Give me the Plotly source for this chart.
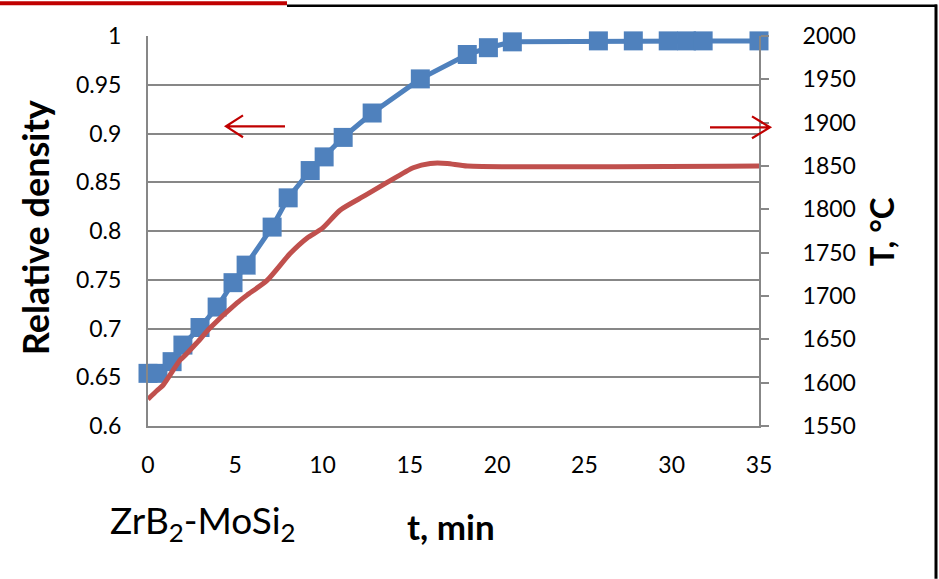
import plotly.graph_objects as go

# Relative density (left axis), blue squares
t_density = [0, 0.57, 1.38, 2.0, 2.98, 3.96, 4.87, 5.62, 7.11, 8.03, 9.29, 10.09,
             11.18, 12.84, 15.6, 18.29, 19.5, 20.87, 25.8, 27.8, 29.8, 30.85, 31.8, 35]
density = [0.654, 0.654, 0.666, 0.683, 0.701, 0.722, 0.747, 0.765, 0.804, 0.834, 0.862, 0.876,
           0.896, 0.921, 0.956, 0.981, 0.988, 0.994, 0.995, 0.995, 0.995, 0.995, 0.995, 0.995]

# Temperature (right axis), red line
t_temp = [0, 0.52, 0.86, 1.83, 2.0, 2.8, 3.55, 5.1, 5.67, 6.82, 8.14, 9.12, 9.98,
          11.0, 12.44, 13.7, 15.19, 16.17, 17.14, 18.3, 35]
temp = [1581, 1591, 1597, 1626, 1629, 1646, 1663, 1692, 1701, 1718, 1749, 1767, 1778,
        1799, 1816, 1831, 1848, 1853, 1853, 1850, 1850]

x_ticks = [0, 5, 10, 15, 20, 25, 30, 35]
y_ticks = [0.6, 0.65, 0.7, 0.75, 0.8, 0.85, 0.9, 0.95, 1]
y_ticklabels = ["0.6", "0.65", "0.7", "0.75", "0.8", "0.85", "0.9", "0.95", "1"]
y2_ticks = [1550, 1600, 1650, 1700, 1750, 1800, 1850, 1900, 1950, 2000]

W, H = 939, 579
L, R, T, B = 148, 759, 35.6, 426
ml, mr, mt, mb = L, W - R, T, H - B
pw, ph = R - L, B - T

def px(x):
    return (x - L) / pw

def py(y):
    return (B - y) / ph

GRID = "#878787"
FONT = "Lato"
ARROW = "#C00000"

fig = go.Figure()
fig.add_trace(go.Scatter(
    x=t_temp, y=temp, yaxis="y2", mode="lines",
    line=dict(color="#C0504D", width=5, shape="spline", smoothing=0.6),
    cliponaxis=False, showlegend=False))
fig.add_trace(go.Scatter(
    x=t_density, y=density, mode="lines+markers",
    line=dict(color="#4F81BD", width=5),
    marker=dict(symbol="square", size=19, color="#4F81BD"),
    cliponaxis=False, showlegend=False))

fig.update_layout(
    width=W, height=H,
    margin=dict(l=ml, r=mr, t=mt, b=mb, pad=0),
    paper_bgcolor="white", plot_bgcolor="white",
    font=dict(family=FONT, color="black", size=23),
    xaxis=dict(range=[0, 35], tickvals=x_ticks, showgrid=False, zeroline=False,
               showline=True, linecolor=GRID, linewidth=2, ticks="",
               ticklabelstandoff=17, tickfont=dict(size=23)),
    yaxis=dict(range=[0.6, 1], tickvals=y_ticks, ticktext=y_ticklabels,
               showgrid=True, gridcolor=GRID, gridwidth=1.6, zeroline=False,
               showline=True, linecolor=GRID, linewidth=2, ticks="",
               ticklabelstandoff=20, tickfont=dict(size=23)),
    yaxis2=dict(range=[1550, 2000], tickvals=y2_ticks, overlaying="y", side="right",
                showgrid=False, zeroline=False, showline=True, linecolor=GRID,
                linewidth=2, ticks="outside", ticklen=8, tickcolor=GRID, tickwidth=2,
                ticklabelstandoff=29, tickfont=dict(size=23)),
)

ann = []
ann.append(dict(text="<b>Relative density</b>", x=px(35), y=py(228), xref="paper", yref="paper",
                textangle=-90, showarrow=False, font=dict(size=36, family=FONT),
                xanchor="center", yanchor="middle"))
ann.append(dict(text="<b>T, °C</b>", x=px(881), y=py(231), xref="paper", yref="paper",
                textangle=-90, showarrow=False, font=dict(size=33, family=FONT),
                xanchor="center", yanchor="middle"))
ann.append(dict(text="<b>t, min</b>", x=px(451), y=py(526), xref="paper", yref="paper",
                showarrow=False, font=dict(size=35, family=FONT),
                xanchor="center", yanchor="middle"))
ann.append(dict(text="ZrB<sub>2</sub>-MoSi<sub>2</sub>", x=px(203), y=py(523), xref="paper", yref="paper",
                showarrow=False, font=dict(size=37, family=FONT),
                xanchor="center", yanchor="middle"))
fig.update_layout(annotations=ann)

def P(x, y):
    return f"{px(x):.5f},{py(y):.5f}"

shapes = []
# direction arrows (open chevron heads)
shapes.append(dict(type="path", xref="paper", yref="paper",
                   path=f"M{P(285,126)} L{P(226,126)} M{P(243,115)} L{P(226,126)} L{P(243,137)}",
                   line=dict(color=ARROW, width=2.2)))
shapes.append(dict(type="path", xref="paper", yref="paper",
                   path=f"M{P(710,127)} L{P(770,127)} M{P(752,116)} L{P(770,127)} L{P(752,138)}",
                   line=dict(color=ARROW, width=2.2)))
# outer frame
shapes.append(dict(type="line", xref="paper", yref="paper", x0=px(287), x1=px(937), y0=py(5.3), y1=py(5.3),
                   line=dict(color="black", width=2.5)))
shapes.append(dict(type="line", xref="paper", yref="paper", x0=px(0), x1=px(287), y0=py(2.7), y1=py(2.7),
                   line=dict(color="#C00000", width=4)))
shapes.append(dict(type="line", xref="paper", yref="paper", x0=px(936), x1=px(936), y0=py(4), y1=py(579),
                   line=dict(color="black", width=3)))
fig.update_layout(shapes=shapes)

fig.write_html("out.html", config={"displayModeBar": False},
               post_script="document.body.style.margin='0px';")
